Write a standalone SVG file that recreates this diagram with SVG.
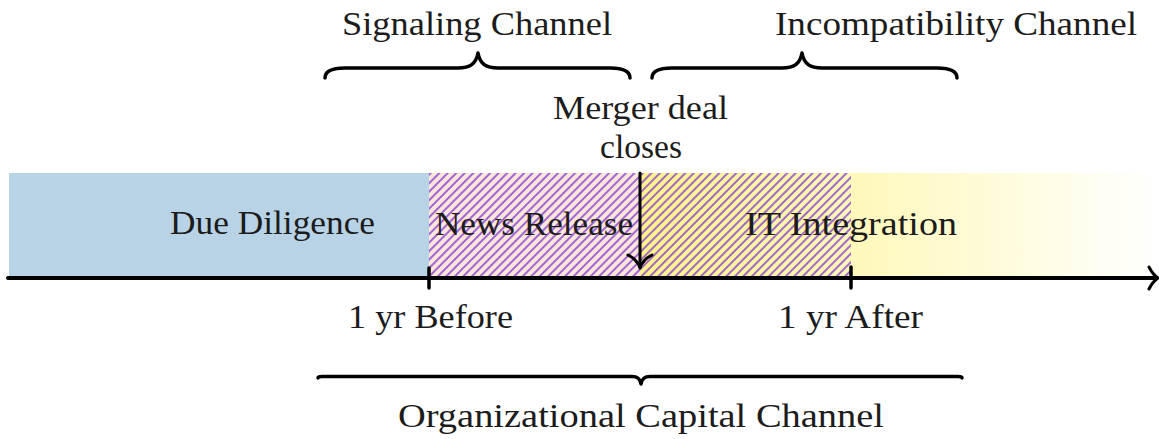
<svg xmlns="http://www.w3.org/2000/svg" width="1159" height="439" viewBox="0 0 1159 439">
<style>
.t{font-family:"Liberation Serif","Times New Roman",serif;font-size:33px;fill:#1c1c1c;text-anchor:middle}
.ln{fill:none;stroke:#000;stroke-linecap:round;stroke-linejoin:round}
</style>
<defs>
<linearGradient id="fade" x1="640" y1="0" x2="1159" y2="0" gradientUnits="userSpaceOnUse">
<stop offset="0" stop-color="#fff38a"/>
<stop offset="1" stop-color="#ffffff"/>
</linearGradient>
<pattern id="hatch" width="6" height="20" patternUnits="userSpaceOnUse" patternTransform="rotate(45)">
<line x1="1" y1="0" x2="1" y2="20" stroke="#7a2fd2" stroke-width="1.4"/>
</pattern>
</defs>
<g id="bands">
<rect id="due-diligence-band" x="9" y="173" width="420" height="104" fill="#b8d3e6"/>
<rect id="news-release-band" x="429" y="173" width="211" height="104" fill="#fde7da"/>
<rect id="it-integration-band" x="640" y="173" width="519" height="104" fill="url(#fade)"/>
<rect id="hatch-area" x="429" y="173" width="422" height="104" fill="url(#hatch)"/>
</g>
<g id="labels">
<text class="t" x="272.5" y="234" textLength="205" lengthAdjust="spacingAndGlyphs">Due Diligence</text>
<text class="t" x="534" y="235" textLength="198" lengthAdjust="spacingAndGlyphs">News Release</text>
<text class="t" x="851" y="235" textLength="212" lengthAdjust="spacingAndGlyphs">IT Integration</text>
<text class="t" x="640.5" y="119" textLength="175" lengthAdjust="spacingAndGlyphs">Merger deal</text>
<text class="t" x="641" y="158" textLength="82" lengthAdjust="spacingAndGlyphs">closes</text>
<text class="t" x="430.5" y="328" textLength="165" lengthAdjust="spacingAndGlyphs">1 yr Before</text>
<text class="t" x="850.5" y="328" textLength="145" lengthAdjust="spacingAndGlyphs">1 yr After</text>
<text class="t" x="477" y="35" textLength="270" lengthAdjust="spacingAndGlyphs">Signaling Channel</text>
<text class="t" x="956" y="35" textLength="362" lengthAdjust="spacingAndGlyphs">Incompatibility Channel</text>
<text class="t" x="641" y="427" textLength="486" lengthAdjust="spacingAndGlyphs">Organizational Capital Channel</text>
</g>
<g id="connectors">
<line class="ln" x1="8" y1="278" x2="1156" y2="278" stroke-width="4" stroke-linecap="butt"/>
<path class="ln" d="M1149,267 C1152,273 1155,276 1158,278 C1155,280 1152,283 1149,289" stroke-width="3"/>
<line class="ln" x1="429" y1="268" x2="429" y2="288" stroke-width="3.5" stroke-linecap="butt"/>
<line class="ln" x1="851" y1="267" x2="851" y2="288" stroke-width="3.5" stroke-linecap="butt"/>
<line class="ln" x1="640" y1="173" x2="640" y2="266" stroke-width="3" stroke-linecap="butt"/>
<path class="ln" d="M628,255 C634,258 638,262 640,268 C642,262 646,258 652,255" stroke-width="3"/>
<path class="ln" d="M325,78 C325,71 332,68 345,68 L458,68 C470,68 476,64 478,53 C480,64 486,68 498,68 L610,68 C623,68 630,71 630,78" stroke-width="3.5"/>
<path class="ln" d="M652,78 C652,71 659,68 672,68 L782,68 C794,68 800,64 802,53 C804,64 810,68 822,68 L937,68 C950,68 957,71 957,78" stroke-width="3.5"/>
<path class="ln" d="M318,378 C318,377 319,376.5 322,376.5 L632,376.5 C637,376.5 640,378 641,384 C642,378 645,376.5 650,376.5 L958,376.5 C961,376.5 962,377 962,378" stroke-width="3.5"/>
</g>
</svg>
